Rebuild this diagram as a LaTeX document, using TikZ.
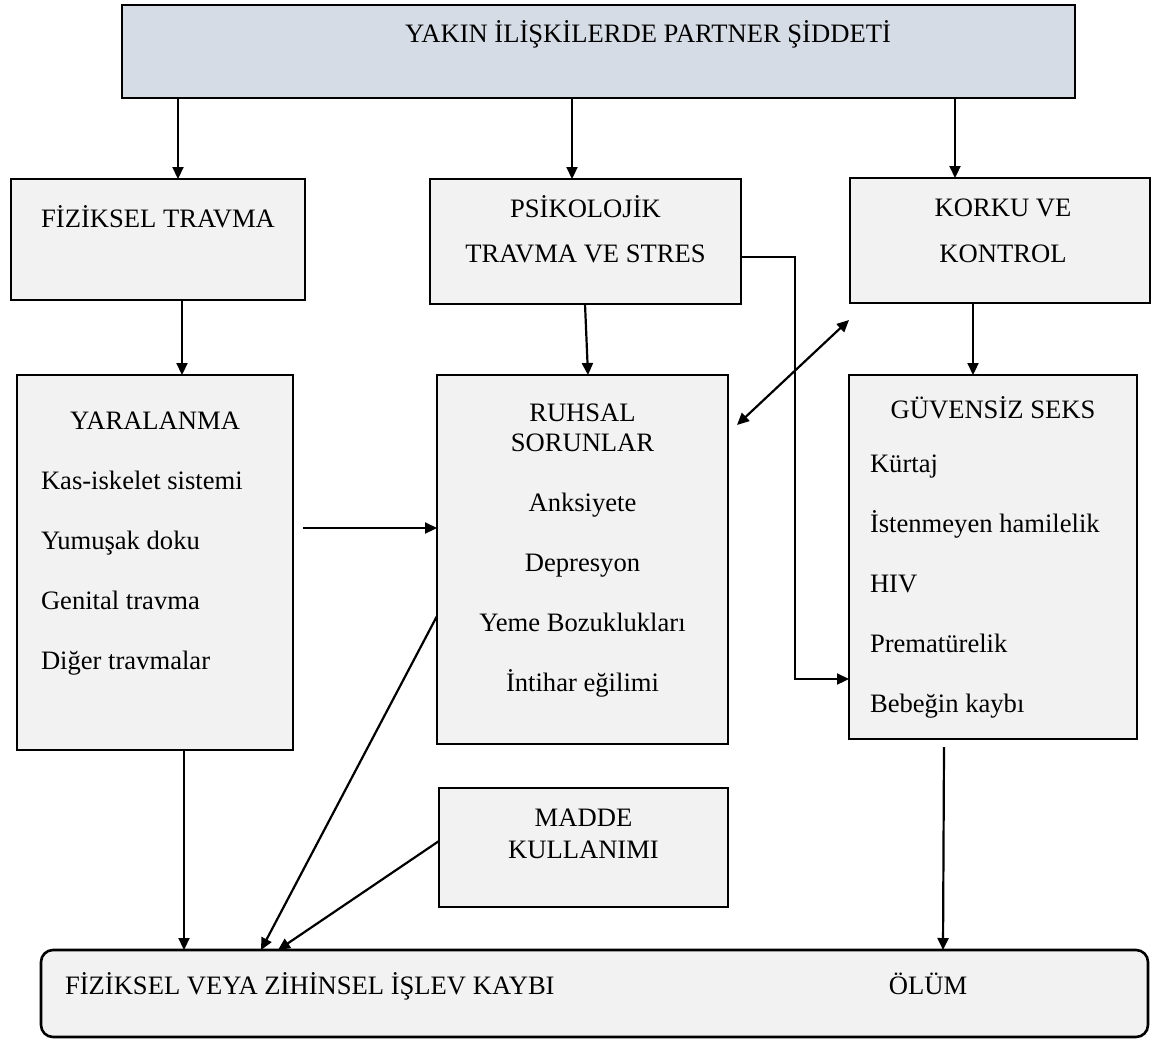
\documentclass[tikz,border=0pt]{standalone}
\usepackage{fontspec}
\setmainfont{Liberation Serif}
\usetikzlibrary{arrows.meta,positioning}
\definecolor{boxgray}{HTML}{F2F2F2}
\definecolor{topblue}{HTML}{D6DCE5}

\begin{document}
\begin{tikzpicture}[x=0.5pt,y=-0.5pt,every node/.style={outer sep=0pt},
 box/.style 2 args={draw,line width=1.3pt,fill=boxgray,inner sep=0pt,
  minimum width=#1*0.5pt,minimum height=#2*0.5pt},
 lbl/.style={font=\fontsize{13.3}{16}\selectfont,inner sep=0pt,anchor=base},
 item/.style={lbl,anchor=base west},
 arr/.style={line width=1.1pt,-{Triangle[length=6pt,width=5.5pt]}},
 dbl/.style={line width=1.1pt,{Triangle[length=6pt,width=5.5pt]}-{Triangle[length=6pt,width=5.5pt]}}]

  \useasboundingbox (0,0) rectangle (1156,1039);

  % kutular
  \node[box={953}{93},fill=topblue] (ipv) at (598.5,51.5) {};
  \node[box={294}{121}] (fiz) at (158,239.5) {};
  \node[box={311}{125}] (psi) at (585.5,241.5) {};
  \node[box={300}{125}] (kor) at (1000,240.5) {};
  \node[box={276}{375}] (yar) at (155,562.5) {};
  \node[box={291}{369}] (ruh) at (582.5,559.5) {};
  \node[box={288}{364}] (guv) at (993,557) {};
  \node[box={289}{119}] (mad) at (583.5,847.5) {};
  \node[box={1107}{87},rounded corners=6pt] (son) at (594.5,993.5) {};

  % basliklar
  \node[lbl] (ipvt) at (648,42) {YAKIN İLİŞKİLERDE PARTNER ŞİDDETİ};
  \node[lbl] (fizt) at (158,227) {FİZİKSEL TRAVMA};
  \node[lbl] (psit1) at (585.5,217) {PSİKOLOJİK};
  \node[lbl] (psit2) at (585.5,262) {TRAVMA VE STRES};
  \node[lbl] (kort1) at (1003,216) {KORKU VE};
  \node[lbl] (kort2) at (1003,262) {KONTROL};
  \node[lbl] (yart) at (155,429) {YARALANMA};
  \node[lbl] (ruht1) at (582.5,421) {RUHSAL};
  \node[lbl] (ruht2) at (582.5,451) {SORUNLAR};
  \node[lbl] (guvt) at (993,418) {GÜVENSİZ SEKS};
  \node[lbl] (madt1) at (583.5,826) {MADDE};
  \node[lbl] (madt2) at (583.5,858) {KULLANIMI};
  \node[item] (sont1) at (65,994) {FİZİKSEL VEYA ZİHİNSEL İŞLEV KAYBI};
  \node[lbl] (sont2) at (928,994) {ÖLÜM};

  % alt maddeler
  \foreach \t [count=\i] in {Kas-iskelet sistemi,Yumuşak doku,Genital travma,Diğer travmalar}
    \node[item] (yar\i) at (41,{429+60*\i}) {\t};
  \foreach \t [count=\i] in {Anksiyete,Depresyon,Yeme Bozuklukları,İntihar eğilimi}
    \node[lbl] (ruh\i) at (582.5,{451+60*\i}) {\t};
  \foreach \t [count=\i] in {Kürtaj,İstenmeyen hamilelik,HIV,Prematürelik,Bebeğin kaybı}
    \node[item] (guv\i) at (870,{412+60*\i}) {\t};

  % oklar
  \foreach \n/\x in {fiz/178,psi/572,kor/955}
    \draw[arr] (ipv.south -| \x,0) -- (\n.north -| \x,0);
  \draw[arr] (fiz.south -| 182,0) -- (yar.north -| 182,0);
  \draw[arr] (psi.south -| 585,0) -- (ruh.north -| 588,0);
  \draw[arr] (kor.south -| 973,0) -- (guv.north -| 973,0);

  \coordinate (yo) at (303,528);
  \draw[arr] (yo) -- (yo -| ruh.west);
  \draw[arr] (psi.east |- 0,257) -- ++(54,0) |- (guv.west |- 0,679);
  \coordinate (d1) at (737,425);
  \coordinate (d2) at (849,320);
  \draw[dbl] (d1) -- (d2);

  \draw[arr] (yar.south -| 184,0) -- (son.north -| 184,0);
  \draw[arr] (ruh.west |- 0,616) -- (son.north -| 261,0);
  \draw[arr] (mad.west |- 0,841) -- (son.north -| 278,0);
  \coordinate (go) at (944,747);
  \draw[arr] (go) -- (son.north -| 943,0);

\end{tikzpicture}
\end{document}
